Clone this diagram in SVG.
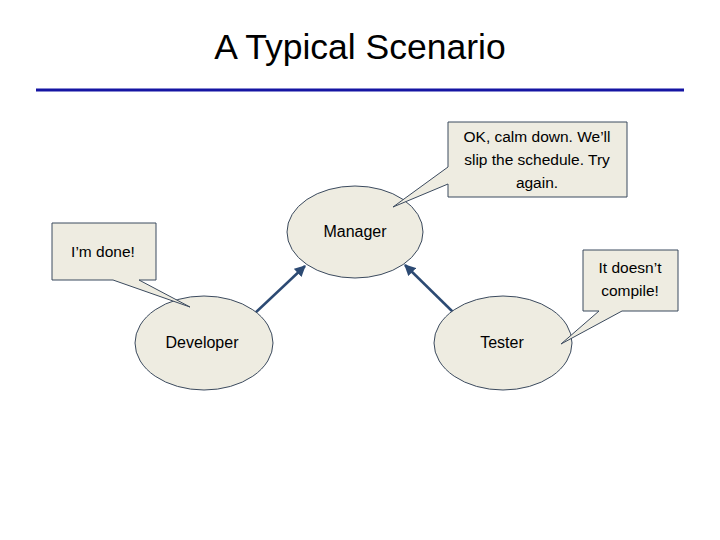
<svg xmlns="http://www.w3.org/2000/svg" width="720" height="540" viewBox="0 0 720 540">
<style>
.node{fill:#eeece1;stroke:#3b4a5e;stroke-width:1}
.callout{fill:#eeece1;stroke:#3b4a5e;stroke-width:1}
.lbl{font-family:"Liberation Sans",Arial,sans-serif;font-size:16px;fill:#000;text-anchor:middle}
.ctext{font-family:"Liberation Sans",Arial,sans-serif;font-size:15.5px;fill:#000;text-anchor:middle}
.edge{stroke:#2c4a73;stroke-width:2.5;fill:none}
</style>
<defs>
<marker id="ah" viewBox="0 0 10 10" refX="9" refY="5" markerWidth="4.5" markerHeight="4.5" orient="auto" markerUnits="strokeWidth">
<path d="M0,0 L10,5 L0,10 Z" fill="#2c4a73"/>
</marker>
</defs>
<rect width="720" height="540" fill="#fff"/>
<text x="360" y="59" font-family="Liberation Sans,Arial,sans-serif" font-size="35.5" text-anchor="middle" fill="#000">A Typical Scenario</text>
<line x1="36" y1="90" x2="684" y2="90" stroke="#1515a3" stroke-width="3"/>
<g id="connectors">
<line class="edge" x1="254" y1="314" x2="305" y2="266" marker-end="url(#ah)"/>
<line class="edge" x1="455" y1="314" x2="405" y2="265" marker-end="url(#ah)"/>
</g>
<g id="manager">
<ellipse class="node" cx="355" cy="232" rx="68" ry="46"/>
<text class="lbl" x="355" y="237">Manager</text>
</g>
<g id="developer">
<ellipse class="node" cx="204" cy="343" rx="69" ry="47"/>
<text class="lbl" x="202" y="348">Developer</text>
</g>
<g id="tester">
<ellipse class="node" cx="503" cy="343" rx="69" ry="47"/>
<text class="lbl" x="502" y="348">Tester</text>
</g>
<g id="callout-manager">
<path class="callout" d="M448,122 H627 V197 H448 V184 L393,207 L448,167 Z"/>
<text class="ctext" x="537" y="142">OK, calm down. We’ll</text>
<text class="ctext" x="537" y="165">slip the schedule. Try</text>
<text class="ctext" x="537" y="188">again.</text>
</g>
<g id="callout-developer">
<path class="callout" d="M52,223 H156 V280 H139 L190,307 L113,280 H52 Z"/>
<text class="ctext" x="103" y="257">I’m done!</text>
</g>
<g id="callout-tester">
<path class="callout" d="M583,250 H678 V311 H622 L561,344 L599,311 H583 Z"/>
<text class="ctext" x="630" y="273">It doesn’t</text>
<text class="ctext" x="630" y="296">compile!</text>
</g>
</svg>
